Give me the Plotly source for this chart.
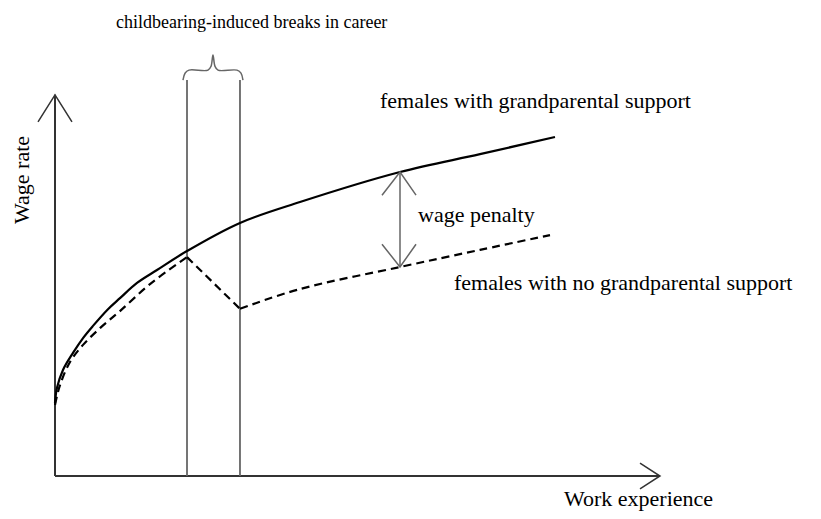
import plotly.graph_objects as go

# Data (units: experience, wage)
solid_x = [0, 0.033, 0.133, 0.3, 0.467, 0.633, 0.883, 1.083, 1.367, 1.7, 2.2, 3.083, 4.083, 5.75, 7.083, 8.333]
solid_y = [1.92, 2.32, 2.79, 3.24, 3.63, 3.95, 4.39, 4.68, 5.08, 5.42, 5.92, 6.66, 7.21, 8.0, 8.47, 8.92]

dash1_x = [0, 0.083, 0.25, 0.467, 0.75, 1.083, 1.583, 2.2]
dash1_y = [1.87, 2.39, 3.0, 3.45, 3.89, 4.34, 5.05, 5.76]
drop_x = [2.2, 3.083]
drop_y = [5.76, 4.4]
dash2_x = [3.083, 4.083, 5.75, 7.083, 8.25]
dash2_y = [4.4, 4.92, 5.5, 5.95, 6.34]

break_start = 2.2
break_end = 3.083
break_top = 10.42

penalty_x = 5.75
penalty_top = 8.0
penalty_bottom = 5.5

y_axis_top = 10.03
x_axis_right = 10.083

brace_x = [2.133, 2.167, 2.233, 2.55, 2.6, 2.633, 2.667, 2.717, 3.033, 3.1, 3.133]
brace_y = [10.42, 10.6, 10.68, 10.68, 10.78, 11.08, 10.78, 10.68, 10.68, 10.6, 10.42]

labels = {
    "top": "childbearing-induced breaks in career",
    "with": "females with grandparental support",
    "penalty": "wage penalty",
    "without": "females with no grandparental support",
    "x": "Work experience",
    "y": "Wage rate",
}

AX = "#333333"
GR = "#666666"
fig = go.Figure()

def line(x, y, color="black", width=2, dash=None, shape="linear"):
    fig.add_trace(go.Scatter(x=x, y=y, mode="lines", hoverinfo="skip",
                             line=dict(color=color, width=width, dash=dash, shape=shape),
                             showlegend=False))

# axes
line([0, 0], [0, y_axis_top], AX, 2)
line([0, x_axis_right], [0, 0], AX, 2)
line([-0.283, 0, 0.283], [y_axis_top - 0.71, y_axis_top, y_axis_top - 0.71], AX, 1.5)
line([x_axis_right - 0.333, x_axis_right, x_axis_right - 0.333], [0.34, 0, -0.34], AX, 1.5)

# break lines and brace
line([break_start, break_start], [0, break_top], GR, 1.8)
line([break_end, break_end], [0, break_top], GR, 1.8)
line(brace_x, brace_y, GR, 1.5, shape="spline")

# curves
line(solid_x, solid_y, "black", 2.2, shape="spline")
line(dash1_x, dash1_y, "black", 2.2, dash="8px,5px", shape="spline")
line(drop_x, drop_y, "black", 2.2, dash="8px,5px")
line(dash2_x, dash2_y, "black", 2.2, dash="8px,5px", shape="spline")

# wage penalty arrow
line([penalty_x, penalty_x], [penalty_bottom, penalty_top], GR, 1.5)
line([penalty_x - 0.3, penalty_x, penalty_x + 0.267], [penalty_top - 0.61, penalty_top, penalty_top - 0.61], GR, 1.5)
line([penalty_x - 0.3, penalty_x, penalty_x + 0.267], [penalty_bottom + 0.6, penalty_bottom, penalty_bottom + 0.6], GR, 1.5)

family = "Liberation Serif, Times New Roman, serif"
font = dict(family=family, size=22, color="black")
ann = [
    dict(text=labels["top"], x=3.283, y=11.95, xanchor="center", font=dict(family=family, size=18, color="black")),
    dict(text=labels["with"], x=5.383, y=9.89, xanchor="left", font=font),
    dict(text=labels["penalty"], x=6.017, y=6.89, xanchor="left", font=font),
    dict(text=labels["without"], x=6.617, y=5.08, xanchor="left", font=font),
    dict(text=labels["x"], x=8.45, y=-0.605, xanchor="left", font=font),
    dict(text=labels["y"], x=-0.55, y=7.79, xanchor="center", textangle=-90, font=font),
]
for a in ann:
    fig.add_annotation(xref="x", yref="y", showarrow=False, yanchor="middle", **a)

# page body has an 8px margin: size the figure to the visible area
OFF = 8
fig.update_layout(width=821 - OFF, height=519 - OFF, margin=dict(l=0, r=0, t=0, b=0),
                  plot_bgcolor="white", paper_bgcolor="white")
fig.update_xaxes(visible=False, range=[(OFF - 55) / 60, (821 - 55) / 60])
fig.update_yaxes(visible=False, range=[(476 - 519) / 38, (476 - OFF) / 38])
fig.write_html("out.html")
